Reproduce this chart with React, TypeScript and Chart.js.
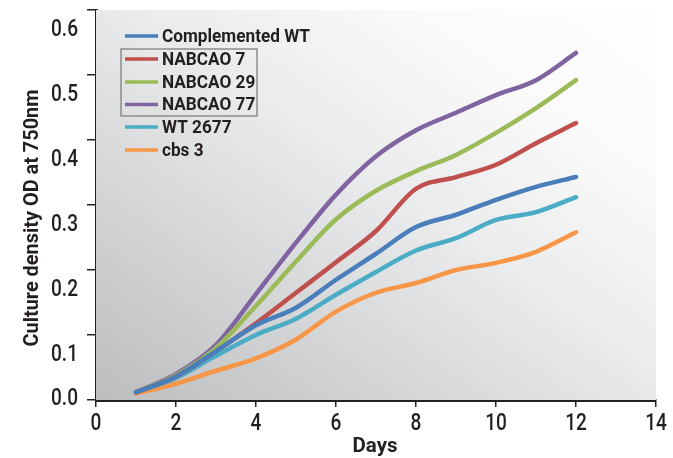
import React, { useEffect, useRef } from 'react';
import { Chart, registerables } from 'chart.js';

Chart.register(...registerables);

const days = [1, 2, 3, 4, 5, 6, 7, 8, 9, 10, 11, 12];
const seriesNames = ['Complemented WT', 'NABCAO 7', 'NABCAO 29', 'NABCAO 77', 'WT 2677', 'cbs 3'];
const complementedWT = [0.012, 0.036, 0.075, 0.115, 0.142, 0.185, 0.225, 0.266, 0.285, 0.308, 0.328, 0.343];
const nabcao7 = [0.012, 0.036, 0.075, 0.118, 0.165, 0.212, 0.26, 0.325, 0.343, 0.362, 0.395, 0.426];
const nabcao29 = [0.012, 0.038, 0.08, 0.145, 0.213, 0.278, 0.322, 0.352, 0.377, 0.411, 0.449, 0.492];
const nabcao77 = [0.012, 0.04, 0.085, 0.163, 0.242, 0.316, 0.375, 0.415, 0.442, 0.469, 0.492, 0.534];
const wt2677 = [0.012, 0.034, 0.068, 0.1, 0.125, 0.162, 0.197, 0.23, 0.249, 0.277, 0.289, 0.312];
const cbs3 = [0.01, 0.025, 0.045, 0.064, 0.093, 0.136, 0.165, 0.18, 0.2, 0.211, 0.228, 0.258];
const seriesColors = ['#4a7ebb', '#c0504d', '#9bbb59', '#8064a2', '#4bacc6', '#f79646'];
const xTickValues = [0, 2, 4, 6, 8, 10, 12, 14];
const xTickLabels = ['0', '2', '4', '6', '8', '10', '12', '14'];
const yTickValues = [0, 0.1, 0.2, 0.3, 0.4, 0.5, 0.6];
const yTickLabels = ['0.0', '0.1', '0.2', '0.3', '0.4', '0.5', '0.6'];
const xTitle = 'Days';
const yTitle = 'Culture density OD at 750nm';

const FONT = "Roboto, 'Liberation Sans', sans-serif";
const TEXT = '#231f20';

function drawCondensed(ctx: CanvasRenderingContext2D, text: string, x: number, y: number, sx: number, align: CanvasTextAlign) {
  ctx.save();
  ctx.translate(x, y);
  ctx.scale(sx, 1);
  ctx.textAlign = align;
  ctx.fillText(text, 0, 0);
  ctx.restore();
}

export default function App() {
  const ref = useRef<HTMLCanvasElement>(null);

  useEffect(() => {
    document.body.style.margin = '0';
    const canvas = ref.current;
    if (!canvas) return;
    const allSeries = [complementedWT, nabcao7, nabcao29, nabcao77, wt2677, cbs3];

    const bgPlugin = {
      id: 'bgGradient',
      beforeDatasetsDraw(chart: any) {
        const { ctx, chartArea } = chart;
        const { left, top, right, bottom } = chartArea;
        const g = ctx.createLinearGradient(left, bottom, left + 390, bottom - 559);
        g.addColorStop(0, '#bcbdbf');
        g.addColorStop(0.5, '#eaebec');
        g.addColorStop(0.75, '#fbfbfb');
        g.addColorStop(1, '#ffffff');
        ctx.save();
        ctx.fillStyle = g;
        ctx.fillRect(left, top, right - left, bottom - top);
        ctx.restore();
      },
    };

    const textPlugin = {
      id: 'customText',
      afterDraw(chart: any) {
        const ctx: CanvasRenderingContext2D = chart.ctx;
        const ys = chart.scales.y;
        const xs = chart.scales.x;
        ctx.save();
        ctx.fillStyle = TEXT;
        ctx.textBaseline = 'middle';

        // tick labels
        ctx.font = `500 24px ${FONT}`;
        const tickSx = 27 / ctx.measureText('0.6').width;
        yTickValues.forEach((v, i) => {
          const y = ys.getPixelForValue(v) + (v === 0 ? -1 : 20);
          drawCondensed(ctx, yTickLabels[i], 78, y, tickSx, 'right');
        });
        xTickValues.forEach((v, i) => {
          drawCondensed(ctx, xTickLabels[i], xs.getPixelForValue(v), 424, tickSx, 'center');
        });

        // axis titles
        ctx.font = `bold 21px ${FONT}`;
        const daysSx = 45 / ctx.measureText(xTitle).width;
        drawCondensed(ctx, xTitle, 375, 447, daysSx, 'center');
        const ySx = 257 / ctx.measureText(yTitle).width;
        ctx.save();
        ctx.translate(33, 218);
        ctx.rotate(-Math.PI / 2);
        drawCondensed(ctx, yTitle, 0, 0, ySx, 'center');
        ctx.restore();

        // legend
        ctx.font = `bold 18px ${FONT}`;
        const legSx = 148 / ctx.measureText(seriesNames[0]).width;
        const rowY = [36, 59, 82, 104.5, 127, 150];
        seriesNames.forEach((name, i) => {
          ctx.strokeStyle = seriesColors[i];
          ctx.lineWidth = 3.5;
          ctx.beginPath();
          ctx.moveTo(125, rowY[i]);
          ctx.lineTo(158, rowY[i]);
          ctx.stroke();
          drawCondensed(ctx, name, 162, rowY[i] + 1, legSx, 'left');
        });
        ctx.strokeStyle = '#8c8c8c';
        ctx.lineWidth = 1.5;
        ctx.strokeRect(121, 49, 136, 67);
        ctx.restore();
      },
    };

    const chart = new Chart(canvas, {
      type: 'line',
      data: {
        datasets: allSeries.map((vals, i) => ({
          label: seriesNames[i],
          data: days.map((d, j) => ({ x: d, y: vals[j] })),
          borderColor: seriesColors[i],
          backgroundColor: seriesColors[i],
          borderWidth: 4.5,
          borderCapStyle: 'round' as const,
          borderJoinStyle: 'round' as const,
          pointRadius: 0,
          cubicInterpolationMode: 'monotone' as const,
          fill: false,
        })),
      },
      options: {
        animation: false,
        responsive: false,
        layout: { padding: { top: 10, right: 17, left: 0, bottom: 0 } },
        plugins: { legend: { display: false }, tooltip: { enabled: false } },
        scales: {
          x: {
            type: 'linear',
            min: 0,
            max: 14,
            afterBuildTicks: (s: any) => { s.ticks = xTickValues.map((v) => ({ value: v })); },
            afterFit: (s: any) => { s.height = 58; },
            ticks: { display: false },
            grid: { drawOnChartArea: false, drawTicks: true, tickLength: 7, color: '#222', lineWidth: 1.5 },
            border: { display: true, color: '#222', width: 3 },
          },
          y: {
            type: 'linear',
            min: 0,
            max: 0.6,
            afterBuildTicks: (s: any) => { s.ticks = yTickValues.map((v) => ({ value: v })); },
            afterFit: (s: any) => { s.width = 96; },
            ticks: { display: false },
            grid: { drawOnChartArea: false, drawTicks: true, tickLength: 9, color: '#222', lineWidth: 1.5 },
            border: { display: true, color: '#222', width: 3 },
          },
        },
      },
      plugins: [bgPlugin, textPlugin],
    });
    return () => chart.destroy();
  }, []);

  return <canvas ref={ref} width={673} height={458} style={{ display: 'block' }} />;
}
